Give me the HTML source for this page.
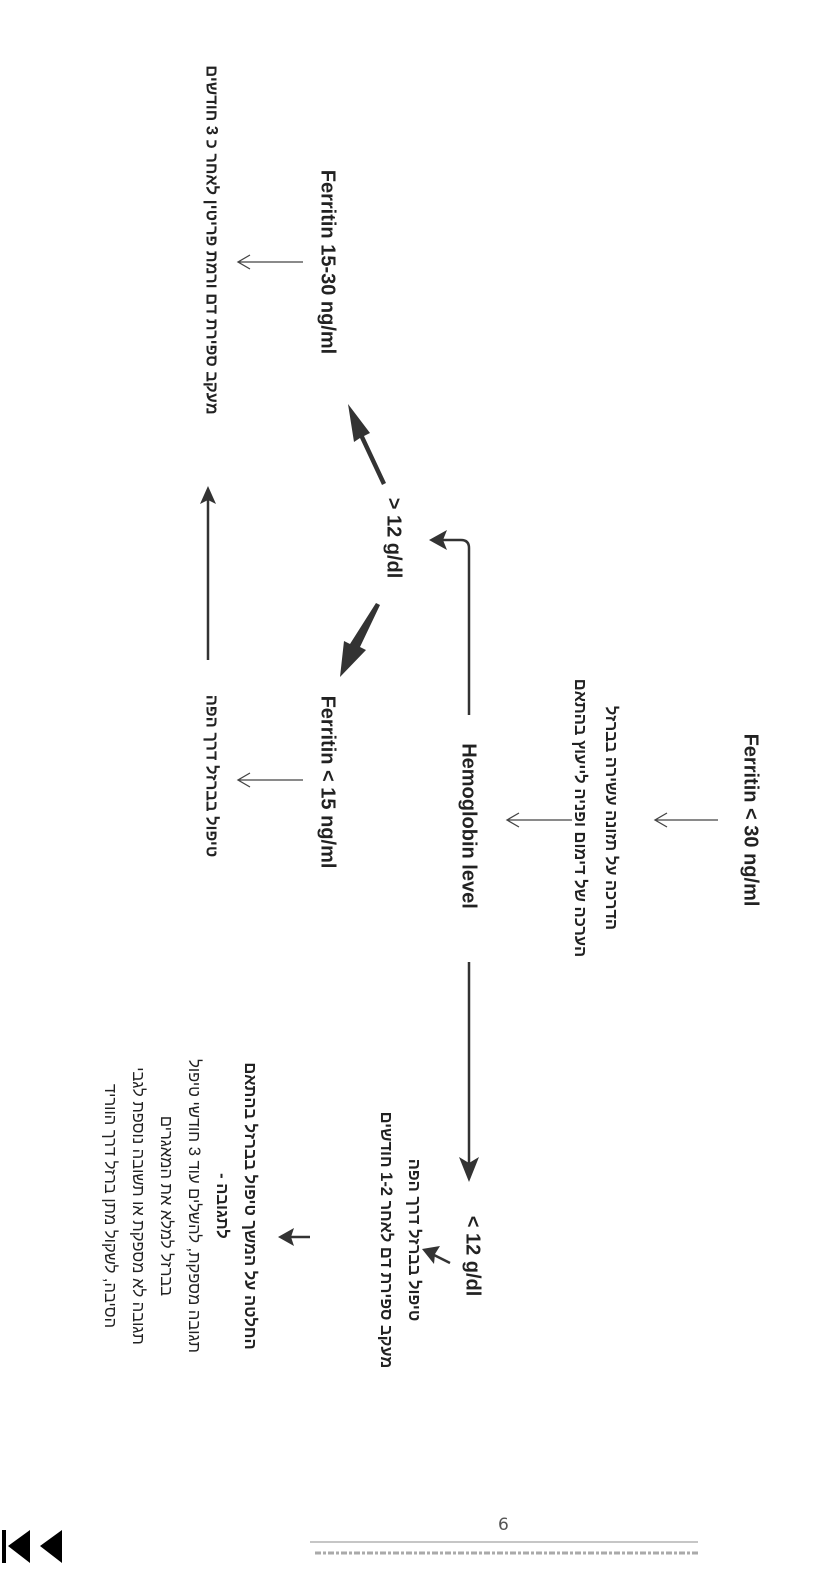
<!DOCTYPE html>
<html><head><meta charset="utf-8"><style>
html,body{margin:0;padding:0;background:#fff;}
#p{position:relative;width:822px;height:1584px;overflow:hidden;font-family:"Liberation Sans","Noto Sans CJK SC",sans-serif;color:#222;}
.r{position:absolute;transform:translate(-50%,-50%) rotate(90deg);white-space:nowrap;text-align:center;font-weight:bold;}
.he{direction:rtl;font-size:16.5px;}
.en{font-size:20px;}
svg{position:absolute;left:0;top:0;}
</style></head><body><div id="p">
<svg width="822" height="1584" viewBox="0 0 822 1584">
<g stroke="#444" stroke-width="1.3" fill="none">
<path d="M718 820 L655 820 M667 813 L655 820 L667 827"/>
<path d="M572 820 L507 820 M519 813 L507 820 L519 827"/>
<path d="M303 262 L238 262 M250 255 L238 262 L250 269"/>
<path d="M303 780 L238 780 M250 773 L238 780 L250 787"/>
</g>
<g stroke="#333" stroke-width="2.5" fill="none">
<line x1="208" y1="660" x2="208" y2="500"/>
<path d="M469 715 L469 548 Q469 540 461 540 L442 540"/>
<line x1="469" y1="962" x2="469" y2="1165"/>
<line x1="450" y1="1263" x2="432" y2="1254"/>
<line x1="310" y1="1237" x2="290" y2="1237"/>
</g>
<g fill="#333">
<path d="M208 486 L200 504 L208 500 L216 504 Z"/>
<path d="M429 540 L447 530 L443 540 L447 550 Z"/>
<path d="M469 1182 L459 1157 L469 1163 L479 1157 Z"/>
<path d="M422 1249 L440 1246 L435 1254 L434 1264 Z"/>
<path d="M278 1237 L294 1228 L291 1237 L294 1246 Z"/>
<path d="M386 483 L382 485 L360 438 L354 442 L348 404 L370 433 L364 436 Z"/>
<path d="M376 603 L380 605 L360 647 L366 650 L340 677 L344 641 L350 644 Z"/>
</g>
<line x1="310" y1="1542" x2="698" y2="1542" stroke="#666" stroke-width="0.8"/>
<line x1="315" y1="1553" x2="698" y2="1553" stroke="#aaa" stroke-width="3" stroke-dasharray="6 2 3 2"/>
<path d="M2 1530 L6 1530 L6 1563 L2 1563 Z M8 1546 L30 1530 L30 1563 Z M40 1546 L62 1530 L62 1563 Z" fill="#000"/>
</svg>
<div class="r en" style="left:750px;top:820px;">Ferritin &lt; 30 ng/ml</div>
<div class="r he" style="left:595px;top:818px;line-height:31px;">הדרכה על תזונה עשירה בברזל<br>הערכה של דימום ופניה לייעוץ בהתאם</div>
<div class="r en" style="left:468px;top:826px;">Hemoglobin level</div>
<div class="r en" style="left:393px;top:538px;">&gt; 12 g/dl</div>
<div class="r en" style="left:472px;top:1256px;">&lt; 12 g/dl</div>
<div class="r en" style="left:327px;top:262px;">Ferritin 15-30 ng/ml</div>
<div class="r en" style="left:327px;top:782px;">Ferritin &lt; 15 ng/ml</div>
<div class="r he" style="left:211px;top:240px;">מעקב ספירת דם ורמת פריטין לאחר כ 3 חודשים</div>
<div class="r he" style="left:211px;top:776px;">טיפול בברזל דרך הפה</div>
<div class="r he" style="left:400px;top:1240px;line-height:28px;">טיפול בברזל דרך הפה<br>מעקב ספירת דם לאחר 1-2 חודשים</div>
<div class="r he" style="left:180px;top:1206px;line-height:28px;">החלטה על המשך טיפול בברזל בהתאם<br>לתגובה -<br><span style="font-weight:normal">תגובה מספקת, להשלים עוד 3 חודשי טיפול<br>בברזל למלא את המאגרים<br>תגובה לא מספקת או תשובה נוספת לגבי<br>הסיבה, לשקול מתן ברזל דרך הווריד</span></div>
<div style="position:absolute;left:498px;top:1515px;font-size:17px;color:#555;font-family:'DejaVu Sans',sans-serif;">6</div>
</div></body></html>
